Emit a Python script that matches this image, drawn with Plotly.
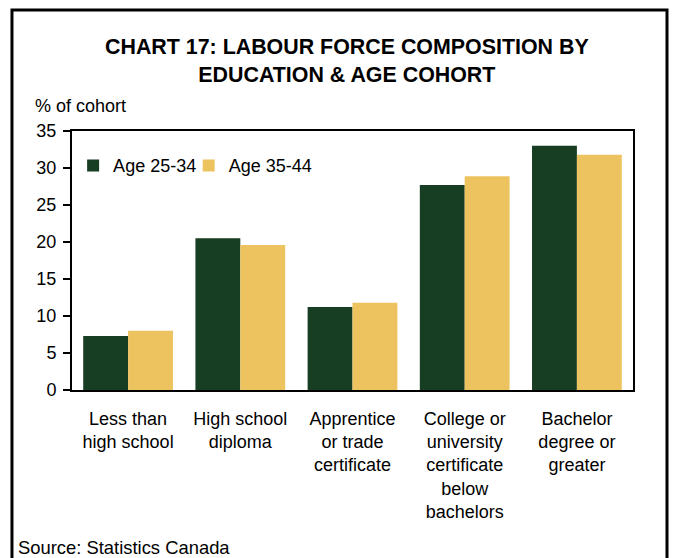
import plotly.graph_objects as go

categories = [
    "Less than<br>high school",
    "High school<br>diploma",
    "Apprentice<br>or trade<br>certificate",
    "College or<br>university<br>certificate<br>below<br>bachelors",
    "Bachelor<br>degree or<br>greater",
]
age_25_34 = [7.3, 20.5, 11.2, 27.7, 33.0]
age_35_44 = [8.0, 19.6, 11.8, 28.9, 31.8]
y_ticks = [0, 5, 10, 15, 20, 25, 30, 35]

GREEN = "#173D22"
YELLOW = "#EDC35F"
FONT = "Liberation Sans, Arial, sans-serif"

fig = go.Figure()
fig.add_trace(go.Bar(x=categories, y=age_25_34, name="Age 25-34",
                     marker=dict(color=GREEN, line=dict(width=0)), legend="legend"))
fig.add_trace(go.Bar(x=categories, y=age_35_44, name="Age 35-44",
                     marker=dict(color=YELLOW, line=dict(width=0)), legend="legend2"))

legend_style = dict(orientation="h", yanchor="middle", xanchor="left", y=0.866,
                    font=dict(size=18), bgcolor="rgba(0,0,0,0)", itemwidth=30)

fig.update_layout(
    width=679, height=558,
    margin=dict(l=72, r=46, t=131, b=168),
    paper_bgcolor="white", plot_bgcolor="white",
    font=dict(family=FONT, size=18, color="black"),
    barmode="group", bargap=0.2, bargroupgap=0,
    showlegend=True,
    legend=dict(x=0.002, **legend_style),
    legend2=dict(x=0.208, **legend_style),
)
fig.update_yaxes(range=[0, 35], tickvals=y_ticks, ticks="outside", ticklen=7,
                 tickwidth=2, tickcolor="black", showline=True, linecolor="black",
                 linewidth=2, mirror=True, showgrid=False, zeroline=False,
                 ticklabelstandoff=3, tickfont=dict(size=18))
fig.update_xaxes(showline=True, linecolor="black", linewidth=2, mirror=True,
                 ticks="", showgrid=False, ticklabelstandoff=11,
                 tickfont=dict(size=18))

# title and notes
fig.add_annotation(text="<b>CHART 17: LABOUR FORCE COMPOSITION BY<br>EDUCATION & AGE COHORT</b>",
                   xref="paper", yref="paper", x=0.49, y=1.270, xanchor="center",
                   yanchor="middle", showarrow=False, font=dict(size=21.4))
fig.add_annotation(text="% of cohort", xref="paper", yref="paper", x=-0.0695,
                   y=1.0965, xanchor="left", yanchor="middle", showarrow=False,
                   font=dict(size=18))
fig.add_annotation(text="Source: Statistics Canada", xref="paper", yref="paper",
                   x=-0.098, y=-0.61, xanchor="left", yanchor="middle",
                   showarrow=False, borderpad=0, font=dict(size=18.4))

# outer frame
fig.add_shape(type="rect", xref="paper", yref="paper", x0=-0.107, x1=1.0606,
              y0=-0.7, y1=1.467, line=dict(color="black", width=3),
              fillcolor="rgba(0,0,0,0)", layer="below")

fig.write_html("out.html", config={"displayModeBar": False},
               post_script="document.body.style.margin='0';")
